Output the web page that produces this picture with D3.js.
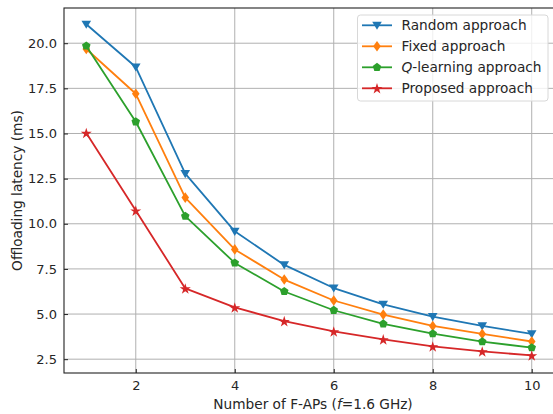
<!DOCTYPE html>
<html><head><meta charset="utf-8">
<script src="https://cdn.jsdelivr.net/npm/d3@7"></script>
<style>body{margin:0;background:#fff}svg{display:block;font-family:"DejaVu Sans",sans-serif}</style>
</head><body><svg id="c" width="553" height="414"></svg>
<script>
const xValues = [1,2,3,4,5,6,7,8,9,10];
const randomVals   = [21.05, 18.68, 12.78, 9.58, 7.72, 6.44, 5.54, 4.86, 4.34, 3.9];
const fixedVals    = [19.68, 17.2, 11.45, 8.58, 6.91, 5.75, 4.97, 4.34, 3.9, 3.48];
const qVals        = [19.85, 15.65, 10.42, 7.83, 6.25, 5.21, 4.46, 3.91, 3.47, 3.14];
const proposedVals = [15.03, 10.73, 6.42, 5.37, 4.61, 4.04, 3.6, 3.21, 2.93, 2.71];
const seriesNames  = ["Random approach","Fixed approach","Q-learning approach","Proposed approach"];
const xTicks = [2,4,6,8,10];
const yTicks = [2.5,5.0,7.5,10.0,12.5,15.0,17.5,20.0];

const series = [
  {name: seriesNames[0], vals: randomVals, color: "#1f77b4", marker: "tri"},
  {name: seriesNames[1], vals: fixedVals, color: "#ff7f0e", marker: "diamond"},
  {name: seriesNames[2], vals: qVals, color: "#2ca02c", marker: "pent"},
  {name: seriesNames[3], vals: proposedVals, color: "#d62728", marker: "star"}
];

const svg = d3.select("#c");
const L = 64, R = 554, T = 8, B = 373;
const x = d3.scaleLinear().domain([0.55, 10.45]).range([L, R]);
const y = d3.scaleLinear().domain([1.735, 21.95]).range([B, T]);

// grid
const g = svg.append("g");
g.selectAll(".gx").data(xTicks).enter().append("line")
  .attr("x1", d => x(d)).attr("x2", d => x(d)).attr("y1", T).attr("y2", B)
  .attr("stroke", "#b0b0b0").attr("stroke-width", 1);
g.selectAll(".gy").data(yTicks).enter().append("line")
  .attr("x1", L).attr("x2", R).attr("y1", d => y(d)).attr("y2", d => y(d))
  .attr("stroke", "#b0b0b0").attr("stroke-width", 1);

// axes
const xAxis = d3.axisBottom(x).tickValues(xTicks).tickFormat(d3.format("d")).tickSizeInner(-4).tickSizeOuter(0).tickPadding(8);
const yAxis = d3.axisLeft(y).tickValues(yTicks).tickFormat(d3.format(".1f")).tickSizeInner(-4).tickSizeOuter(0).tickPadding(7);
const gx = svg.append("g").attr("transform", `translate(0,${B})`).call(xAxis);
const gy = svg.append("g").attr("transform", `translate(${L},0)`).call(yAxis);
[gx, gy].forEach(a => {
  a.selectAll("text").attr("font-size", 13).attr("fill", "#262626").attr("font-family", "DejaVu Sans");
  a.selectAll(".tick line").attr("stroke", "#222").attr("stroke-width", 1);
  a.select(".domain").remove();
});
// spines
svg.append("rect").attr("x", L).attr("y", T).attr("width", R - L).attr("height", B - T)
  .attr("fill", "none").attr("stroke", "#222").attr("stroke-width", 1.1);

function drawMarker(sel, type, color, cx, cy) {
  const gm = sel.append("g").attr("transform", `translate(${cx},${cy})`);
  if (type === "tri") {
    const r = 4.8;
    gm.append("path").attr("d", `M${-r},${-r*0.75} L${r},${-r*0.75} L0,${r*0.95} Z`).attr("fill", color);
  } else if (type === "diamond") {
    gm.append("path").attr("d", "M0,-5.3 L3.8,0 L0,5.3 L-3.8,0 Z").attr("fill", color);
  } else if (type === "pent") {
    const pts = d3.range(5).map(i => {
      const a = -Math.PI / 2 + i * 2 * Math.PI / 5;
      return [4.5 * Math.cos(a), 4.5 * Math.sin(a)];
    });
    gm.append("path").attr("d", d3.line()(pts) + "Z").attr("fill", color);
  } else if (type === "star") {
    gm.append("path").attr("d", d3.symbol().type(d3.symbolStar).size(38)()).attr("fill", color)
      .attr("transform", "translate(0,0.6)");
  }
}

const line = d3.line().x((d, i) => x(xValues[i])).y(d => y(d));
series.forEach(s => {
  svg.append("path").datum(s.vals).attr("d", line).attr("fill", "none")
    .attr("stroke", s.color).attr("stroke-width", 1.8).attr("stroke-linejoin", "round");
  s.vals.forEach((v, i) => drawMarker(svg, s.marker, s.color, x(xValues[i]), y(v)));
});

// legend
const lg = svg.append("g");
lg.append("rect").attr("x", 357.5).attr("y", 15).attr("width", 190.5).attr("height", 86).attr("rx", 3)
  .attr("fill", "#fff").attr("fill-opacity", 0.8).attr("stroke", "#d8d8d8").attr("stroke-width", 1);
series.forEach((s, i) => {
  const yy = 25.3 + i * 21;
  lg.append("line").attr("x1", 362).attr("x2", 392).attr("y1", yy).attr("y2", yy)
    .attr("stroke", s.color).attr("stroke-width", 1.8);
  drawMarker(lg, s.marker, s.color, 377, yy);
  const t = lg.append("text").attr("x", 401.5).attr("y", yy + 4.8).attr("font-size", 13.7).attr("fill", "#262626");
  if (i === 2) {
    t.append("tspan").attr("font-style", "italic").text("Q");
    t.append("tspan").text("-learning approach");
  } else {
    t.text(s.name);
  }
});

// axis labels
const xl = svg.append("text").attr("x", 313).attr("y", 409).attr("text-anchor", "middle")
  .attr("font-size", 13.7).attr("fill", "#262626");
xl.append("tspan").text("Number of F-APs (");
xl.append("tspan").attr("font-style", "italic").text("f");
xl.append("tspan").text("=1.6 GHz)");
svg.append("text").attr("transform", `translate(22,${(T + B) / 2}) rotate(-90)`).attr("text-anchor", "middle")
  .attr("font-size", 13.7).attr("fill", "#262626").text("Offloading latency (ms)");
</script></body></html>
